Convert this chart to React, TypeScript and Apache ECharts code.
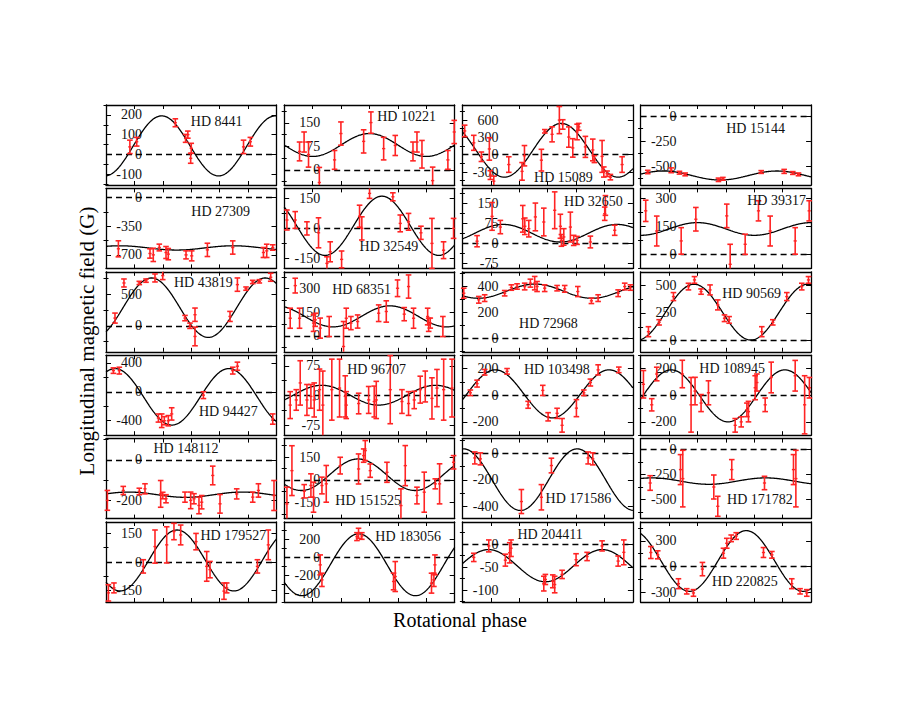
import React, { useEffect, useRef } from "react";
import * as echarts from "echarts";

// ---------- data ----------
const starNames = [
  "HD 8441", "HD 10221", "HD 15089", "HD 15144",
  "HD 27309", "HD 32549", "HD 32650", "HD 39317",
  "HD 43819", "HD 68351", "HD 72968", "HD 90569",
  "HD 94427", "HD 96707", "HD 103498", "HD 108945",
  "HD 148112", "HD 151525", "HD 171586", "HD 171782",
  "HD 179527", "HD 183056", "HD 204411", "HD 220825",
];

const yMinValues = [-155, -48, -525, -690, -864, -200, -95, -76, -410, -102, -106, -100, -600, -100, -300, -300, -290, -255, -490, -690, -210, -500, -126, -416];
const yMaxValues = [250, 207, 860, 110, 112, 200, 205, 352, 850, 408, 514, 620, 505, 102, 300, 300, 105, 272, 110, 110, 210, 392, 48, 520];

const yTickLabels = [
  [-100, 0, 100, 200], [0, 75, 150], [-300, 0, 300, 600], [-500, -250, 0],
  [-700, -350, 0], [-150, 0, 150], [-75, 0, 75, 150], [0, 150, 300],
  [0, 500], [0, 150, 300], [0, 200, 400], [0, 250, 500],
  [-400, 0, 400], [-75, 0, 75], [-200, 0, 200], [-200, 0, 200],
  [-200, 0], [-150, 0, 150], [-400, -200, 0], [-500, -250, 0],
  [-150, 0, 150], [-400, -200, 0, 200], [-100, -50, 0], [-300, 0, 300],
];

// sinusoidal fit: mean + amplitude * cos(2π(phase - phaseOfMax))
const fitMean = [43, 79.5, 76, -595, -614, 13, 37, 135, 285, 124, 364, 257, -70, 1, 10, -5, -172, 34, -198, -315, 8, -85, -47, 64];
const fitAmplitude = [152, 36.5, 465, 45, 26, 148, 33, 34, 468, 67, 55, 251, 390, 25, 180, 195, 13, 104, 231, 32, 160, 345, 35, 355];
const fitPhaseMax = [0.49, 0.75, 0.87, 0.2, 0.12, 0.86, 0.36, 0.5, 0.4, 0.93, 0.64, 0.47, 0.08, 0.33, 0.29, 0.27, 0.2, 0.65, 0.01, 0.1, 0.625, 0.655, 0.23, 0.93];

// observations: [phase, B (G), sigma (G)]
const hd8441 = [[0.21, 38, 34], [0.27, 64, 22], [0.61, 160, 20], [0.70, 81, 20], [0.72, 100, 18], [0.75, 31, 25], [0.745, -20, 25], [1.21, 38, 34], [1.27, 64, 22]];
const hd10221 = [[0.135, 59, 30], [0.175, 89, 32], [0.214, 49, 40], [0.309, -40, 48], [0.443, 32, 30], [0.499, 116, 37], [0.699, 91, 37], [0.763, 151, 34], [0.875, 68, 36], [0.977, 78, 32], [1.133, 59, 30], [1.168, 89, 32], [1.212, 50, 44], [1.306, -34, 43], [1.44, 32, 30], [1.496, 121, 37]];
const hd15089 = [[0.02, 411, 100], [0.10, 205, 130], [0.167, -36, 82], [0.237, 99, 194], [0.246, -353, 76], [0.276, -459, 88], [0.408, -171, 135], [0.525, -289, 153], [0.546, -18, 176], [0.695, -95, 188], [0.725, 405, 30], [0.789, 352, 130], [0.853, 599, 235], [0.883, 523, 82], [0.936, 305, 176], [0.971, 117, 160], [1.009, 393, 135], [1.024, 482, 60], [1.082, 135, 182], [1.147, 82, 188], [1.161, -77, 60], [1.229, -30, 276], [1.244, -300, 88], [1.273, -330, 47], [1.302, -389, 47], [1.405, -171, 135]];
const hd15144 = [[0.063, -560, 17], [0.269, -543, 24], [0.342, -567, 14], [0.392, -584, 14], [0.685, -638, 17], [0.724, -628, 14], [1.061, -560, 14], [1.263, -554, 20], [1.339, -570, 14], [1.389, -584, 14]];
const hd27309 = [[0.109, -625, 98], [0.387, -682, 57], [0.416, -699, 81], [0.469, -609, 41], [0.528, -670, 73], [0.548, -690, 69], [0.704, -699, 49], [0.754, -711, 61], [0.892, -638, 81], [1.115, -609, 81], [1.385, -670, 61], [1.414, -650, 81], [1.467, -609, 33]];
const hd32549 = [[0.024, 42, 50], [0.097, 42, 42], [0.2, 0, 33], [0.302, -22, 75], [0.376, -175, 33], [0.405, -117, 50], [0.505, -155, 42], [0.663, 61, 55], [0.683, 0, 58], [0.751, 175, 25], [0.956, 158, 20], [1.021, 25, 42], [1.094, 33, 42], [1.203, -22, 33], [1.3, -75, 125], [1.402, -109, 42], [1.49, 0, 50]];
const hd32650 = [[0.129, 7, 21], [0.261, 100, 52], [0.334, 60, 25], [0.531, 91, 50], [0.549, 63, 31], [0.584, 54, 31], [0.642, 98, 52], [0.716, 79, 52], [0.812, 123, 69], [0.862, 63, 45], [0.871, 10, 22], [0.892, 23, 31], [0.95, 60, 56], [0.979, 10, 19], [1.009, 10, 15], [1.126, 4, 22], [1.252, 110, 25], [1.258, 141, 37], [1.34, 48, 19]];
const hd39317 = [[0.045, 232, 57], [0.142, 124, 80], [0.357, 71, 71], [0.486, 187, 63], [0.758, 205, 63], [0.788, -54, 107], [0.92, 53, 54], [1.037, 232, 54], [1.14, 124, 80], [1.36, 71, 71], [1.483, 232, 54]];
const hd43819 = [[0.079, 121, 79], [0.158, 674, 63], [0.293, 674, 26], [0.352, 711, 26], [0.431, 753, 63], [0.499, 790, 63], [0.695, 121, 42], [0.739, 0, 42], [0.783, 174, 105], [0.783, -168, 147], [1.091, 147, 79], [1.156, 648, 105], [1.232, 585, 26], [1.291, 690, 26], [1.349, 700, 26], [1.449, 764, 63]];
const hd68351 = [[0.053, 112, 64], [0.097, 320, 47], [0.135, 112, 64], [0.258, 81, 53], [0.273, 102, 42], [0.317, 49, 64], [0.396, 59, 64], [0.522, -68, 159], [0.546, 112, 64], [0.587, 81, 42], [0.646, 91, 42], [0.831, 144, 53], [0.898, 155, 68], [0.997, 303, 53], [1.056, 138, 42], [1.094, 314, 74], [1.138, 112, 64], [1.262, 123, 53], [1.271, 70, 42], [1.285, 81, 32], [1.396, 59, 64]];
const hd72968 = [[0.012, 348, 39], [0.144, 297, 26], [0.196, 310, 26], [0.372, 348, 21], [0.431, 392, 21], [0.481, 400, 21], [0.548, 400, 26], [0.598, 426, 31], [0.636, 426, 52], [0.657, 400, 39], [0.724, 387, 26], [0.833, 387, 21], [0.9, 382, 26], [1.015, 361, 39], [1.135, 289, 21], [1.194, 310, 26], [1.37, 348, 26], [1.428, 400, 26], [1.478, 392, 21]];
const hd90569 = [[0.069, 81, 45], [0.163, 165, 24], [0.289, 397, 36], [0.421, 487, 30], [0.474, 547, 30], [0.532, 442, 24], [0.611, 457, 45], [0.679, 322, 45], [0.738, 202, 30], [0.779, 187, 30], [1.066, 81, 45], [1.163, 165, 24], [1.286, 397, 36], [1.418, 487, 30], [1.477, 547, 30]];
const hd94427 = [[0.065, 292, 38], [0.117, 292, 47], [0.461, -363, 56], [0.49, -400, 94], [0.513, -400, 56], [0.548, -400, 71], [0.578, -306, 85], [0.857, -47, 47], [1.115, 292, 47], [1.156, 353, 56], [1.467, -377, 71]];
const hd96707 = [[0.053, -24, 34], [0.106, -11, 26], [0.141, 32, 56], [0.2, -11, 39], [0.235, -2, 30], [0.264, -11, 43], [0.311, 15, 52], [0.34, -24, 86], [0.419, 15, 77], [0.487, 19, 73], [0.537, -2, 52], [0.546, -24, 34], [0.655, -20, 26], [0.743, -11, 34], [0.792, -15, 39], [0.81, -11, 47], [0.933, 15, 86], [1.036, -15, 30], [1.094, -20, 30], [1.144, -11, 22], [1.197, 15, 34], [1.241, 23, 39], [1.3, -7, 52], [1.344, 19, 47], [1.403, 15, 77], [1.476, 19, 73]];
const hd103498 = [[0.07, 18, 21], [0.129, 87, 26], [0.196, 172, 21], [0.393, 179, 21], [0.578, -72, 26], [0.707, 36, 38], [0.754, -162, 31], [0.833, -136, 38], [0.877, -226, 51], [1.003, -97, 64], [1.068, 18, 21], [1.126, 95, 26], [1.194, 190, 38], [1.376, 190, 21]];
const hd108945 = [[0.025, 82, 103], [0.098, -72, 46], [0.142, 159, 51], [0.367, 159, 103], [0.444, -72, 205], [0.479, 31, 103], [0.532, -59, 64], [0.597, 18, 90], [0.832, -226, 51], [0.885, -200, 38], [0.935, -110, 51], [0.949, -123, 77], [1.008, 56, 90], [1.023, 95, 64], [1.096, -72, 51], [1.149, 133, 115], [1.36, 146, 115], [1.443, -72, 218], [1.485, 56, 77]];
const hd148112 = [[0.012, -200, 49], [0.152, -151, 20], [0.293, -156, 16], [0.343, -143, 25], [0.481, -168, 66], [0.499, -176, 16], [0.528, -192, 20], [0.695, -184, 25], [0.745, -200, 41], [0.774, -192, 25], [0.818, -225, 41], [0.842, -209, 33], [0.939, -77, 46], [1.003, -217, 46], [1.15, -168, 25], [1.291, -184, 25], [1.341, -151, 33], [1.478, -176, 74]];
const hd151525 = [[0.024, -158, 110], [0.068, 61, 164], [0.176, -75, 44], [0.235, -37, 77], [0.258, -114, 99], [0.332, -37, 55], [0.37, -26, 121], [0.493, 94, 55], [0.654, 72, 99], [0.699, 160, 44], [0.713, 193, 66], [0.757, 61, 44], [0.904, 50, 66], [1.027, -169, 110], [1.065, 94, 132], [1.168, -103, 55], [1.232, -81, 132], [1.329, -26, 33], [1.367, -26, 132], [1.49, 116, 44]];
const hd171586 = [[0.109, -35, 45], [0.158, -42, 45], [0.519, -362, 90], [0.695, -330, 95], [0.783, -92, 55], [1.106, -35, 45], [1.147, -42, 45]];
const hd171782 = [[0.084, -334, 73], [0.351, -200, 150], [0.371, -290, 283], [0.644, -374, 120], [0.679, -567, 100], [0.802, -200, 100], [1.09, -334, 67], [1.345, -200, 150], [1.366, -290, 283]];
const hd179527 = [[0.021, -162, 43], [0.07, -136, 26], [0.328, -23, 35], [0.431, 81, 87], [0.534, 90, 95], [0.598, 160, 43], [0.657, 142, 52], [0.792, 107, 43], [0.886, -23, 78], [0.915, -40, 43], [1.038, -153, 43], [1.062, -136, 26], [1.332, -23, 35], [1.428, 90, 78]];
const hd183056 = [[0.317, -86, 111], [0.332, -253, 74], [0.64, 229, 44], [0.654, 266, 56], [0.683, 236, 37], [0.962, -271, 93], [0.977, -216, 167], [1.296, -290, 111], [1.317, -253, 74], [1.326, -86, 111]];
const hd204411 = [[0.1, -29, 9], [0.232, -4, 13], [0.378, -35, 13], [0.416, -19, 22], [0.428, -9, 18], [0.716, -86, 16], [0.73, -77, 11], [0.795, -81, 14], [0.812, -88, 18], [0.877, -66, 9], [1.0, -34, 13], [1.097, -27, 9], [1.229, -4, 11], [1.37, -37, 11], [1.42, -18, 27]];
const hd220825 = [[0.09, 163, 70], [0.151, 136, 47], [0.333, -202, 58], [0.406, -291, 31], [0.465, -310, 39], [0.544, -31, 78], [0.729, 155, 58], [0.758, 271, 58], [0.797, 329, 39], [0.841, 356, 39], [1.081, 163, 58], [1.155, 136, 39], [1.33, -202, 58], [1.403, -291, 31], [1.462, -310, 39]];

const observations = [
  hd8441, hd10221, hd15089, hd15144,
  hd27309, hd32549, hd32650, hd39317,
  hd43819, hd68351, hd72968, hd90569,
  hd94427, hd96707, hd103498, hd108945,
  hd148112, hd151525, hd171586, hd171782,
  hd179527, hd183056, hd204411, hd220825,
];

const PHASE_MIN = 0;
const PHASE_MAX = 1.5;
const PHASE_TICK = 0.25;

// ---------- layout ----------
const GRID_LEFT0 = 106;
const GRID_DX = 178.2;
const GRID_W = 170.5;
const GRID_TOP0 = 105;
const GRID_DY = 83.4;
const GRID_H = 80;

// star-name label centre, relative to the panel's top-left corner
const labelOffsets = [
  [110.7, 16.7], [122.4, 11.7], [101, 72.3], [115, 23.3],
  [114.7, 23.3], [104.7, 58.3], [131, 13.3], [136, 11.6],
  [97.3, 10.5], [77.4, 17.2], [86, 51.5], [111, 21.5],
  [122.3, 56.5], [92.4, 13.8], [94.4, 13.8], [91.6, 13.1],
  [80, 9.7], [84, 61.4], [116, 59.7], [119.3, 60.7],
  [127.3, 13], [124, 14.7], [87.7, 12], [104.3, 59.7],
];

const SERIF = '"Liberation Serif", "Times New Roman", serif';
const RED = "#ff2424";

function buildOption() {
  const grid: any[] = [];
  const xAxis: any[] = [];
  const yAxis: any[] = [];
  const series: any[] = [];
  const graphic: any[] = [];

  starNames.forEach((name, k) => {
    const row = Math.floor(k / 4);
    const col = k % 4;
    const left = GRID_LEFT0 + col * GRID_DX;
    const top = GRID_TOP0 + row * GRID_DY;
    grid.push({ left, top, width: GRID_W, height: GRID_H, containLabel: false, outerBoundsMode: "none" });

    const frame = { show: true, onZero: false, lineStyle: { color: "#000", width: 1.3 } };
    const xBase = {
      type: "value",
      gridIndex: k,
      min: PHASE_MIN,
      max: PHASE_MAX,
      interval: PHASE_TICK,
      axisLine: frame,
      axisTick: { show: true, inside: true, length: 4, lineStyle: { color: "#000", width: 1 } },
      axisLabel: { show: false },
      splitLine: { show: false },
    };
    const xBottomIndex = xAxis.length;
    xAxis.push({ ...xBase, position: "bottom" });
    xAxis.push({ ...xBase, position: "top" });

    const majors = yTickLabels[k];
    const step = majors[1] - majors[0];
    const half = step / 2;
    const minors: number[] = [];
    for (let v = Math.ceil(yMinValues[k] / half) * half; v <= yMaxValues[k]; v += half) {
      if (!majors.includes(v)) minors.push(v);
    }
    const yBase = {
      type: "value",
      gridIndex: k,
      min: yMinValues[k],
      max: yMaxValues[k],
      splitLine: { show: false },
    };
    const yLeftIndex = yAxis.length;
    yAxis.push({
      ...yBase,
      position: "left",
      axisLine: frame,
      axisTick: { show: true, inside: true, length: 5, customValues: majors, lineStyle: { color: "#000", width: 1 } },
      axisLabel: {
        show: true,
        customValues: majors,
        margin: -36,
        fontFamily: SERIF,
        fontSize: 14,
        color: "#111",
      },
    });
    yAxis.push({
      ...yBase,
      position: "right",
      axisLine: frame,
      axisTick: { show: true, inside: true, length: 5, customValues: majors, lineStyle: { color: "#000", width: 1 } },
      axisLabel: { show: false },
    });
    yAxis.push({
      ...yBase,
      position: "left",
      axisLine: { show: false },
      axisTick: { show: true, inside: true, length: 2.5, customValues: minors, lineStyle: { color: "#000", width: 1 } },
      axisLabel: { show: false },
    });
    yAxis.push({
      ...yBase,
      position: "right",
      axisLine: { show: false },
      axisTick: { show: true, inside: true, length: 2.5, customValues: minors, lineStyle: { color: "#000", width: 1 } },
      axisLabel: { show: false },
    });

    // fitted curve
    const curve: number[][] = [];
    const N = 240;
    for (let i = 0; i <= N; i++) {
      const ph = PHASE_MIN + ((PHASE_MAX - PHASE_MIN) * i) / N;
      curve.push([ph, fitMean[k] + fitAmplitude[k] * Math.cos(2 * Math.PI * (ph - fitPhaseMax[k]))]);
    }
    series.push({
      type: "line",
      xAxisIndex: xBottomIndex,
      yAxisIndex: yLeftIndex,
      data: curve,
      showSymbol: false,
      symbol: "none",
      silent: true,
      clip: true,
      z: 3,
      lineStyle: { color: "#000", width: 1.3 },
      markLine: {
        silent: true,
        symbol: ["none", "none"],
        label: { show: false },
        lineStyle: { color: "#000", width: 1.3, type: [6, 4] },
        data: [{ yAxis: 0 }],
        z: 2,
      },
    });

    // error bars
    series.push({
      type: "custom",
      xAxisIndex: xBottomIndex,
      yAxisIndex: yLeftIndex,
      data: observations[k],
      encode: { x: 0, y: 1 },
      silent: true,
      z: 4,
      renderItem: (params: any, api: any) => {
        const x = api.value(0);
        const y = api.value(1);
        const e = api.value(2);
        const pTop = api.coord([x, y + e]);
        const pBot = api.coord([x, y - e]);
        const pMid = api.coord([x, y]);
        const cs = params.coordSys;
        const yTop = Math.max(pTop[1], cs.y);
        const yBot = Math.min(pBot[1], cs.y + cs.height);
        if (yTop >= yBot) return null;
        const px = pMid[0];
        const style = { stroke: RED, lineWidth: 1.6 };
        const cap = 2.8;
        const children: any[] = [
          { type: "line", shape: { x1: px, y1: yTop, x2: px, y2: yBot }, style },
        ];
        if (pTop[1] >= cs.y) children.push({ type: "line", shape: { x1: px - cap, y1: pTop[1], x2: px + cap, y2: pTop[1] }, style });
        if (pBot[1] <= cs.y + cs.height) children.push({ type: "line", shape: { x1: px - cap, y1: pBot[1], x2: px + cap, y2: pBot[1] }, style });
        if (pMid[1] >= cs.y && pMid[1] <= cs.y + cs.height)
          children.push({ type: "line", shape: { x1: px - 1.6, y1: pMid[1], x2: px + 1.6, y2: pMid[1] }, style: { stroke: RED, lineWidth: 1.4 } });
        return { type: "group", children };
      },
    });

    graphic.push({
      type: "text",
      x: left + labelOffsets[k][0],
      y: top + labelOffsets[k][1],
      z: 10,
      style: {
        text: name,
        font: `14px ${SERIF}`,
        fill: "#111",
        align: "center",
        verticalAlign: "middle",
        textAlign: "center",
        textVerticalAlign: "middle",
      },
    });
  });

  graphic.push({
    type: "text",
    x: 87,
    y: 341,
    rotation: Math.PI / 2,
    style: {
      text: "Longitudinal magnetic field (G)",
      font: `21px ${SERIF}`,
      fill: "#000",
      align: "center",
      verticalAlign: "middle",
      textAlign: "center",
      textVerticalAlign: "middle",
    },
  });
  graphic.push({
    type: "text",
    x: 460,
    y: 620,
    style: {
      text: "Rotational phase",
      font: `20px ${SERIF}`,
      fill: "#000",
      align: "center",
      verticalAlign: "middle",
      textAlign: "center",
      textVerticalAlign: "middle",
    },
  });

  return {
    animation: false,
    backgroundColor: "#fff",
    grid,
    xAxis,
    yAxis,
    series,
    graphic,
  };
}

export default function App() {
  const ref = useRef<HTMLDivElement>(null);
  useEffect(() => {
    if (!ref.current) return;
    const chart = echarts.init(ref.current, null, { renderer: "svg" });
    chart.setOption(buildOption() as any);
    return () => chart.dispose();
  }, []);
  return (
    <div
      ref={ref}
      style={{ position: "absolute", left: 0, top: 0, width: 917, height: 708, background: "#fff" }}
    />
  );
}
